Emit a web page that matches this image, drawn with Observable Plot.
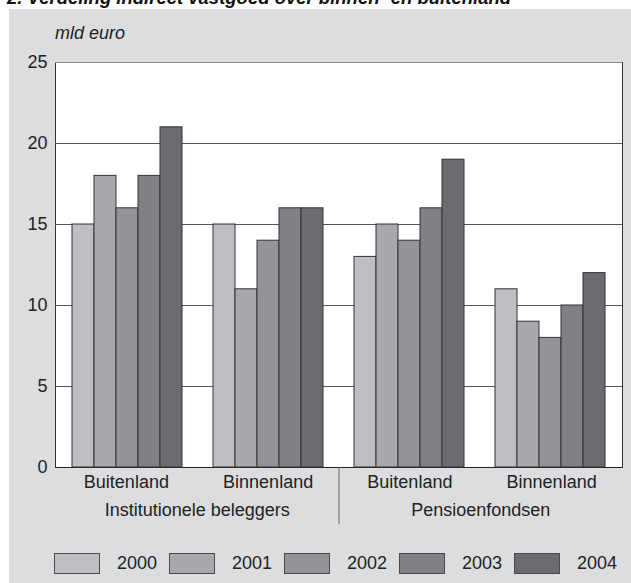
<!DOCTYPE html>
<html>
<head>
<meta charset="utf-8">
<script src="https://cdn.jsdelivr.net/npm/d3@7"></script>
<script src="https://cdn.jsdelivr.net/npm/@observablehq/plot@0.6"></script>
<style>
  html, body { margin: 0; padding: 0; background: #ffffff; }
  #wrap { position: relative; width: 631px; height: 583px; overflow: hidden; }
  #panel { position: absolute; left: 9px; top: 9px; right: 0; bottom: 0; background: #dcdddf; }
  #title { position: absolute; left: 7px; top: -11.5px; font: italic bold 18.5px/18.5px "Liberation Sans", Arial, sans-serif; color: #111; white-space: nowrap; }
  #unit { position: absolute; left: 55px; top: 24px; font: italic 18px/18px "Liberation Sans", Arial, sans-serif; color: #222; }
  .layer { position: absolute; left: 0; top: 0; }
  #legend { position: absolute; left: 54px; top: 553px; display: flex; }
  .item { width: 115px; display: flex; align-items: center; font: 18px "Liberation Sans", Arial, sans-serif; color: #222; }
  .sw { width: 44px; height: 19px; border: 1px solid #4a4a4a; margin-right: 17px; }
</style>
</head>
<body>
<div id="wrap">
  <div id="panel"></div>
  <div id="title">2. Verdeling indirect vastgoed over binnen- en buitenland</div>
  <div id="unit">mld euro</div>
  <div id="legend"></div>
</div>
<script>
// ---- data ----
const years = ["2000", "2001", "2002", "2003", "2004"];
const colors = ["#bebfc2", "#a8a9ac", "#939497", "#808184", "#6b6c6f"];
const sectors = ["Institutionele beleggers", "Pensioenfondsen"];
const regions = ["Buitenland", "Binnenland"];
const ibBuitenland = [15, 18, 16, 18, 21];
const ibBinnenland = [15, 11, 14, 16, 16];
const pfBuitenland = [13, 15, 14, 16, 19];
const pfBinnenland = [11, 9, 8, 10, 12];
const yTicks = [0, 5, 10, 15, 20, 25];

const series = [
  [ibBuitenland, ibBinnenland],
  [pfBuitenland, pfBinnenland]
];

const groups = [];
sectors.forEach((s, si) => regions.forEach((r, ri) => {
  groups.push({key: s + "|" + r, sector: s, region: r, values: series[si][ri], index: groups.length});
}));
const keys = groups.map(g => g.key);
const rows = groups.flatMap(g => g.values.map((v, i) => ({key: g.key, year: years[i], value: v})));
const sectorRows = sectors.map((s, si) => ({sector: s, pos: si * regions.length + regions.length / 2}));
const separators = sectors.slice(1).map((s, si) => (si + 1) * regions.length);

const W = 631, H = 583;
const M = {marginLeft: 55, marginRight: 9, marginTop: 62, marginBottom: 116};
const FONT = '"Liberation Sans", Arial, sans-serif';

// ---- base layer: frame, grid, axes, labels ----
const base = Plot.plot({
  width: W, height: H, ...M,
  style: {background: "transparent", fontFamily: FONT, fontSize: "18px", color: "#222", overflow: "visible"},
  x: {domain: [0, groups.length], axis: null},
  y: {domain: [0, 25], ticks: yTicks, tickSize: 0, tickPadding: 8, label: null},
  marks: [
    Plot.frame({fill: "white", stroke: "#333"}),
    Plot.ruleY(yTicks.filter(v => v > 0 && v < 25), {stroke: "#555"}),
    Plot.ruleY(yTicks.filter(v => v === 25), {stroke: "#888"}),
    Plot.ruleY([0], {stroke: "#222"}),
    Plot.text(groups, {x: d => d.index + 0.5, frameAnchor: "bottom", dy: 20, text: "region", fontSize: 18, fill: "#222"}),
    Plot.text(sectorRows, {x: "pos", frameAnchor: "bottom", dy: 48, text: "sector", fontSize: 18, fill: "#222"}),
    Plot.ruleX(separators, {y1: 0, y2: -3.5, stroke: "#666"})
  ]
});
base.classList.add("layer");
document.getElementById("wrap").appendChild(base);

// ---- bars layer (faceted by group) ----
const bars = Plot.plot({
  width: W, height: H, ...M,
  style: {background: "transparent", overflow: "visible"},
  facet: {data: rows, x: "key"},
  fx: {domain: keys, paddingInner: 0.19, paddingOuter: 0.095, axis: null, label: null},
  x: {domain: years, padding: 0, axis: null},
  y: {domain: [0, 25], axis: null},
  color: {domain: years, range: colors},
  marks: [
    Plot.barY(rows, {x: "year", y: "value", fill: "year", stroke: "#333", strokeWidth: 1})
  ]
});
bars.classList.add("layer");
document.getElementById("wrap").appendChild(bars);

// ---- legend ----
const legend = document.getElementById("legend");
years.forEach((y, i) => {
  const item = document.createElement("div");
  item.className = "item";
  const sw = document.createElement("div");
  sw.className = "sw";
  sw.style.background = colors[i];
  item.appendChild(sw);
  item.appendChild(document.createTextNode(y));
  legend.appendChild(item);
});
document.getElementById("wrap").appendChild(legend);
</script>
</body>
</html>
